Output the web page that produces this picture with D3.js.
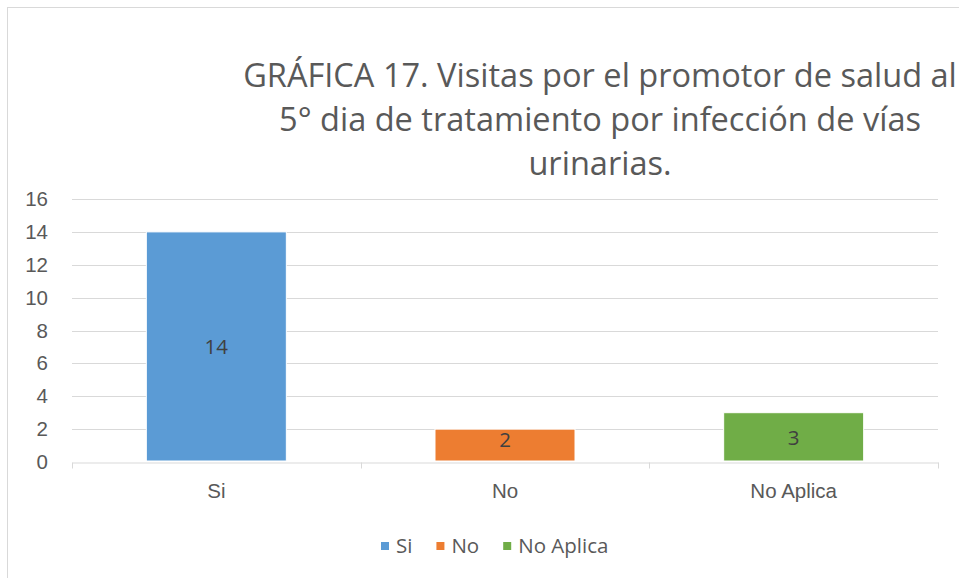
<!DOCTYPE html>
<html>
<head>
<meta charset="utf-8">
<script src="https://cdn.jsdelivr.net/npm/d3@7"></script>
<style>
  body { margin: 0; background: #fff; }
  svg { display: block; font-family: "Open Sans", "Noto Sans", sans-serif; }
</style>
</head>
<body>
<div id="chart"></div>
<script>
// data
const categories = ["Si", "No", "No Aplica"];
const values = [14, 2, 3];
const colors = ["#5B9BD5", "#ED7D31", "#70AD47"];
const yTicks = [0, 2, 4, 6, 8, 10, 12, 14, 16];
const titleLines = [
    "GRÁFICA 17. Visitas por el promotor de salud al",
    "5° dia de tratamiento por infección de vías",
    "urinarias."
];

const W = 959, H = 578;
const plot = { left: 72, right: 938, top: 199, bottom: 462 };
const textColor = "#595959";
const smallFont = "20.5px";

const svg = d3.select("#chart").append("svg")
    .attr("width", W)
    .attr("height", H);

// chart frame (cut off at right and bottom)
svg.append("rect")
    .attr("x", 7.5).attr("y", 7.5)
    .attr("width", W + 20).attr("height", H + 20)
    .attr("fill", "#fff")
    .attr("stroke", "#d9d9d9");

// title, sized so the first line spans about 714px like the original
const title = svg.append("text")
    .attr("text-anchor", "middle")
    .attr("fill", textColor)
    .style("font-size", "28px");
title.selectAll("tspan")
    .data(titleLines)
    .enter()
    .append("tspan")
    .attr("x", 600)
    .attr("y", (d, i) => 87 + i * 44)
    .text(d => d);
const firstW = title.select("tspan").node().getComputedTextLength();
title.style("font-size", (28 * 714 / firstW) + "px");

// scales
const x = d3.scaleBand()
    .domain(categories)
    .range([plot.left, plot.right])
    .padding(0);

const y = d3.scaleLinear()
    .domain([0, 16])
    .range([plot.bottom, plot.top]);

// gridlines
svg.append("g")
    .selectAll("line")
    .data(yTicks.filter(d => d > 0))
    .enter()
    .append("line")
    .attr("x1", plot.left)
    .attr("x2", plot.right)
    .attr("y1", d => Math.round(y(d)) + 0.5)
    .attr("y2", d => Math.round(y(d)) + 0.5)
    .attr("stroke", "#d9d9d9")
    .attr("stroke-width", 1);

// y axis labels
const yAxis = svg.append("g")
    .attr("transform", `translate(${plot.left},0)`)
    .call(d3.axisLeft(y).tickValues(yTicks).tickSize(0).tickPadding(24));
yAxis.select(".domain").remove();
yAxis.selectAll("text")
    .attr("fill", textColor)
    .style("font-size", smallFont)
    .style("font-family", null);

// x axis
const xAxis = svg.append("g")
    .attr("transform", `translate(0,${Math.round(plot.bottom) + 0.5})`)
    .call(d3.axisBottom(x).tickSize(0).tickPadding(21));
xAxis.select(".domain").attr("stroke", "#d9d9d9");
xAxis.selectAll("text")
    .attr("fill", textColor)
    .style("font-size", smallFont)
    .style("font-family", null);
xAxis.selectAll(".bound")
    .data(categories.map(c => x(c)).concat([plot.right]))
    .enter()
    .append("line")
    .attr("x1", d => Math.round(d) + 0.5)
    .attr("x2", d => Math.round(d) + 0.5)
    .attr("y1", 0)
    .attr("y2", 6)
    .attr("stroke", "#d9d9d9");

// bars
const barW = x.bandwidth() * 0.485;
const bars = svg.append("g");
bars.selectAll("rect")
    .data(values)
    .enter()
    .append("rect")
    .attr("x", (d, i) => x(categories[i]) + (x.bandwidth() - barW) / 2)
    .attr("y", d => y(d))
    .attr("width", barW)
    .attr("height", d => y(0) - y(d) - 1)
    .attr("fill", (d, i) => colors[i])
    .attr("stroke", "#fff")
    .attr("stroke-width", 1);

// data labels
bars.selectAll("text")
    .data(values)
    .enter()
    .append("text")
    .attr("x", (d, i) => x(categories[i]) + x.bandwidth() / 2)
    .attr("y", d => (y(d) + y(0)) / 2 - (d < 3 ? 6 : 0))
    .attr("dy", "0.35em")
    .attr("text-anchor", "middle")
    .attr("fill", "#404040")
    .style("font-size", smallFont)
    .text(d => d);

// legend
const legend = svg.append("g")
    .attr("transform", "translate(381,546)");
let lx = 0;
categories.forEach((c, i) => {
    const item = legend.append("g").attr("transform", `translate(${lx},0)`);
    item.append("rect")
        .attr("x", 0).attr("y", -4)
        .attr("width", 8).attr("height", 8)
        .attr("fill", colors[i]);
    const t = item.append("text")
        .attr("x", 15)
        .attr("dy", "0.35em")
        .attr("fill", textColor)
        .style("font-size", smallFont)
        .text(c);
    lx += 15 + t.node().getComputedTextLength() + 24;
});
</script>
</body>
</html>
